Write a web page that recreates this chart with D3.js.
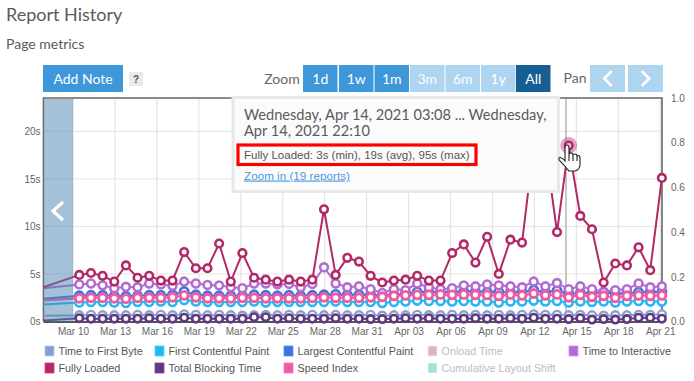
<!DOCTYPE html>
<html><head><meta charset="utf-8">
<script src="https://cdnjs.cloudflare.com/ajax/libs/d3/7.8.5/d3.min.js"></script>
<style>html,body{margin:0;padding:0;background:#fff;overflow:hidden}svg{display:block}</style>
</head><body><svg id="c" width="694" height="381"></svg>
<script>
const times = ["03-07 21:20","03-10 10:48","03-11 06:48","03-12 02:48","03-12 22:48","03-13 18:48","03-14 14:48","03-15 10:48","03-16 06:48","03-17 02:48","03-17 22:48","03-18 18:48","03-19 14:48","03-20 10:48","03-21 06:48","03-22 02:48","03-22 22:48","03-23 18:48","03-24 14:48","03-25 10:48","03-26 06:48","03-27 02:48","03-27 22:48","03-28 18:48","03-29 14:48","03-30 10:48","03-31 06:48","04-01 02:48","04-01 22:48","04-02 18:48","04-03 14:48","04-04 10:48","04-05 06:48","04-06 02:48","04-06 22:48","04-07 18:48","04-08 14:48","04-09 10:48","04-10 06:48","04-11 02:48","04-11 22:48","04-12 18:48","04-13 14:48","04-14 10:48","04-15 06:48","04-16 02:48","04-16 22:48","04-17 18:48","04-18 14:48","04-19 10:48","04-20 06:48","04-21 02:48"];
const xTicks = ["03-10","03-13","03-16","03-19","03-22","03-25","03-28","03-31","04-03","04-06","04-09","04-12","04-15","04-18","04-21"];
const yTicksLeft = [0,5,10,15,20];
const yTicksRight = [0,0.2,0.4,0.6,0.8,1];

const timeToFirstByte = [0.6,0.65,0.7,0.65,0.65,0.65,0.7,0.65,0.7,0.65,0.75,0.7,0.65,0.7,0.65,0.6,0.65,0.7,0.65,0.7,0.65,0.7,0.65,0.7,0.65,0.65,0.7,0.6,0.65,0.65,0.7,0.65,0.65,0.7,0.65,0.7,0.65,0.7,0.65,0.7,0.75,0.7,0.7,0.65,0.7,0.65,0.6,0.65,0.65,0.7,0.7,0.75];
const firstContentfulPaint = [1.8,2.0,2.05,2.05,2.0,1.95,2.05,2.05,2.1,2.05,2.25,2.1,2.05,2.05,2.05,2.05,2.1,2.0,2.05,2.05,2.05,2.05,2.05,2.1,2.05,2.05,2.05,1.95,2.05,2.1,2.2,2.15,2.15,2.1,2.15,2.1,2.1,2.0,2.1,2.1,2.2,2.1,2.15,2.0,2.1,2.05,2.1,2.0,2.1,2.15,2.1,2.1];
const largestContentfulPaint = [2.4,2.7,2.75,2.75,2.7,2.65,2.7,2.75,2.75,2.8,3.15,2.8,2.7,2.7,2.7,2.7,2.8,2.75,2.7,2.75,2.7,2.75,2.8,2.85,2.8,2.8,2.8,2.7,2.8,2.95,3.1,3.1,3.1,3.1,3.15,3.15,3.1,3.1,3.05,3.1,3.3,3.05,3.25,2.9,3.0,3.0,3.1,2.9,3.0,3.05,3.1,3.1];
const timeToInteractive = [3.5,3.9,4.0,3.8,3.5,3.65,3.6,4.0,3.9,3.75,4.2,4.0,3.85,3.8,3.6,3.5,4.0,4.0,3.9,3.95,3.6,3.95,5.7,4.0,3.6,3.7,3.4,3.0,3.4,3.3,4.0,3.6,3.4,3.5,3.8,3.7,3.9,3.8,3.7,3.6,4.2,3.7,4.05,3.4,3.7,3.4,3.1,3.3,3.4,4.0,3.6,3.7];
const fullyLoaded = [3.6,4.9,5.1,4.8,4.2,5.9,4.6,4.8,4.3,4.3,7.3,5.6,5.6,8.2,4.2,7.2,4.6,4.4,4.2,4.4,4.2,4.4,11.8,4.9,6.7,6.3,4.8,4.1,4.3,4.4,4.8,4.3,4.3,7.2,8.1,6.2,8.9,5.0,8.6,8.3,18.5,18.4,9.4,18.5,11.1,9.7,4.1,6.1,5.9,7.8,5.4,15.1];
const totalBlockingTime = [0.1,0.35,0.3,0.3,0.3,0.3,0.3,0.35,0.3,0.3,0.4,0.3,0.3,0.3,0.3,0.3,0.45,0.45,0.3,0.35,0.3,0.3,0.3,0.35,0.3,0.3,0.25,0.25,0.3,0.35,0.3,0.35,0.3,0.3,0.3,0.35,0.3,0.3,0.35,0.3,0.4,0.3,0.3,0.25,0.35,0.2,0.25,0.2,0.25,0.4,0.4,0.3];
const speedIndex = [2.2,2.45,2.5,2.5,2.45,2.4,2.5,2.5,2.5,2.55,2.75,2.55,2.45,2.45,2.45,2.5,2.5,2.45,2.45,2.45,2.45,2.5,2.55,2.5,2.5,2.5,2.55,2.6,2.7,2.75,2.8,2.8,2.85,2.8,2.85,2.8,2.8,2.7,2.85,2.75,2.95,2.75,2.85,2.55,2.8,2.6,2.7,2.5,2.7,2.75,2.7,2.75];

const seriesNames = ["Time to First Byte","First Contentful Paint","Largest Contentful Paint","Time to Interactive","Fully Loaded","Total Blocking Time","Speed Index"];
const seriesValues = [timeToFirstByte,firstContentfulPaint,largestContentfulPaint,timeToInteractive,fullyLoaded,totalBlockingTime,speedIndex];
const seriesColors = ["#8b9dc8","#29b5f0","#3d73e0","#b26cd1","#b32866","#5f3a80","#f05aa0"];
const seriesRadius = [4,4,4.2,3.9,3.8,3.7,4];
const seriesWidth = [2.4,2.6,2.6,2.6,2.6,2.6,2.9];
const legendNames = ["Time to First Byte","First Contentful Paint","Largest Contentful Paint","Onload Time","Time to Interactive","Fully Loaded","Total Blocking Time","Speed Index","Cumulative Layout Shift"];
const legendColors = ["#8b9dc8","#29b5f0","#3d73e0","#d9b4c8","#b26cd1","#b32866","#5f3a80","#f05aa0","#a8e0cd"];
const legendMuted = [false,false,false,true,false,false,false,false,true];
const zoomLabels = ["1d","1w","1m","3m","6m","1y","All"];
const zoomFill = ["#3d97d9","#3d97d9","#3d97d9","#aed5f0","#aed5f0","#aed5f0","#175e93"];

const svg = d3.select("#c");
const SANS = "'Liberation Sans',Arial,sans-serif", HEAD = "Lato,sans-serif";
const L=43.5,R=662,T=98,B=321.5;
const pt = d3.utcParse("%Y-%m-%d %H:%M"), pd = d3.utcParse("%Y-%m-%d");
const dates = times.map(t=>pt("2021-"+t));
const x = d3.scaleUtc().domain([pt("2021-03-07 21:20"),pt("2021-04-21 03:00")]).range([L,R]);
const y = d3.scaleLinear().domain([0,23.5]).range([B,T]);
const yR = d3.scaleLinear().domain([0,1]).range([B,T]);

function txt(s,xx,yy,size,fill,font,anchor,weight){
  return svg.append("text").attr("x",xx).attr("y",yy).attr("font-size",size).attr("fill",fill)
   .attr("font-family",font).attr("text-anchor",anchor||"start").attr("font-weight",weight||400).text(s);
}
txt("Report History",6,21,18,"#5a5a5a",HEAD);
txt("Page metrics",6,49,14,"#5a5a5a",HEAD);

// buttons
function btn(x0,x1,fill,label,color){
  svg.append("rect").attr("x",x0).attr("y",65).attr("width",x1-x0).attr("height",27).attr("fill",fill);
  if(label) txt(label,(x0+x1)/2,83.5,14,color||"#fff",HEAD,"middle");
}
btn(43,123,"#3d97d9","Add Note");
svg.append("rect").attr("x",129).attr("y",72).attr("width",14).attr("height",14).attr("fill","#eaeaea");
txt("?",136,83,10,"#555",SANS,"middle",700);
txt("Zoom",282,84,14,"#666",HEAD,"middle");
const zx=[303,339,374.5,410,445.5,481,516];
zoomLabels.forEach((z,i)=>btn(zx[i],zx[i]+34.5,zoomFill[i],z));
txt("Pan",575,83,14,"#666",HEAD,"middle");
btn(590,625,"#aed5f0");btn(628,663,"#aed5f0");
function chev(cx,cy,dir,h,w,sw){
  const hw=w*dir;
  svg.append("path").attr("d",`M${cx-hw/2},${cy-h} L${cx+hw/2},${cy} L${cx-hw/2},${cy+h}`)
   .attr("fill","none").attr("stroke","#fff").attr("stroke-width",sw);
}
chev(608,78.5,-1,7.5,7.5,2.6);chev(645.5,78.5,1,7.5,7.5,2.6);

// axes
const gx = svg.append("g").attr("transform",`translate(0,${B})`)
  .call(d3.axisBottom(x).tickValues(xTicks.map(d=>pd("2021-"+d))).tickFormat(d3.utcFormat("%b %d")).tickSize(0).tickPadding(6));
gx.select(".domain").remove();
gx.selectAll("text").attr("font-size",10).attr("font-family",SANS).attr("fill","#666");
const gl = svg.append("g").attr("transform",`translate(${L},0)`)
  .call(d3.axisLeft(y).tickValues(yTicksLeft).tickFormat(d=>d+"s").tickSize(0).tickPadding(3));
gl.select(".domain").remove();
gl.selectAll("text").attr("font-size",10).attr("font-family",SANS).attr("fill","#666");
const gr = svg.append("g").attr("transform",`translate(${R},0)`)
  .call(d3.axisRight(yR).tickValues(yTicksRight).tickFormat(d3.format(".1f")).tickSize(0).tickPadding(9));
gr.select(".domain").remove();
gr.selectAll("text").attr("font-size",10).attr("font-family",SANS).attr("fill","#666");

// grid
svg.append("g").selectAll("line").data(yTicksLeft.slice(1)).join("line")
 .attr("x1",L).attr("x2",R).attr("y1",d=>y(d)).attr("y2",d=>y(d)).attr("stroke","#e4e4e4").attr("stroke-width",1);
svg.append("g").selectAll("line").data(xTicks).join("line")
 .attr("x1",d=>x(pd("2021-"+d))).attr("x2",d=>x(pd("2021-"+d))).attr("y1",T).attr("y2",B).attr("stroke","#e4e4e4").attr("stroke-width",1.2);
// crosshair
svg.append("line").attr("x1",566).attr("x2",566).attr("y1",T).attr("y2",B).attr("stroke","#aaa").attr("stroke-width",1.3);

// frame
svg.append("path").attr("d",`M${L},${B} V${T} H${R} V${B}`).attr("fill","none").attr("stroke","#666").attr("stroke-width",1.6);
svg.append("line").attr("x1",L).attr("x2",R).attr("y1",B+0.5).attr("y2",B+0.5).attr("stroke","#555").attr("stroke-width",2);

// series
const line = d3.line().x((d,i)=>x(dates[i])).y(d=>y(d));
seriesValues.forEach((vals,s)=>{
  const g=svg.append("g");
  g.append("path").attr("d",line(vals)).attr("fill","none").attr("stroke",seriesColors[s]).attr("stroke-width",2);
  g.selectAll("circle").data(vals.slice(1)).join("circle")
   .attr("cx",(d,i)=>x(dates[i+1])).attr("cy",d=>y(d)).attr("r",seriesRadius[s])
   .attr("fill","#fff").attr("stroke",seriesColors[s]).attr("stroke-width",seriesWidth[s]);
});
// highlighted point
const hi=43;
svg.append("circle").attr("cx",x(dates[hi])).attr("cy",y(fullyLoaded[hi])).attr("r",8.5).attr("fill","#b32866").attr("opacity",.4);
svg.append("circle").attr("cx",x(dates[hi])).attr("cy",y(fullyLoaded[hi])).attr("r",3.6).attr("fill","#f3c4d8").attr("stroke","#b32866").attr("stroke-width",2);

// navigator band
svg.append("rect").attr("x",L+0.8).attr("y",T+1).attr("width",x(pd("2021-03-10"))-L-0.8).attr("height",B-T-1).attr("fill","#4a84b0").attr("opacity",.5);
chev(58,211,-1,9,10,3.2);

// tooltip
svg.append("rect").attr("x",233).attr("y",97.5).attr("width",325.5).attr("height",94).attr("fill","#fbfbfb").attr("stroke","#e8e8e8").attr("stroke-width",3);
txt("Wednesday, Apr 14, 2021 03:08 ... Wednesday,",244,120,14.6,"#5a5a5a",HEAD);
txt("Apr 14, 2021 22:10",244,136,14.6,"#5a5a5a",HEAD);
svg.append("rect").attr("x",238).attr("y",145).attr("width",238).attr("height",19.5).attr("fill","none").attr("stroke","#f00").attr("stroke-width",3.2);
txt("Fully Loaded: 3s (min), 19s (avg), 95s (max)",244,158.5,11.5,"#555",SANS);
txt("Zoom in (19 reports)",244,179.5,11.7,"#4a9be0",SANS).attr("text-decoration","underline");

// hand cursor
svg.append("path").attr("transform","translate(558,145)")
 .attr("d","M7,16 L7,3 Q7,0 9,0 Q11,0 11,3 L11,10 Q11,8 13,8 Q15,8 15,10.5 Q15,9 17,9 Q19,9 19,11.5 Q19.5,10.5 20.5,10.5 Q22,10.5 22,13 L22,20 Q21.5,25 17,26 L11,26 Q9,24 6,20 L1.5,15.5 Q0,13 2,12.5 Q4,12.5 7,16 Z M11,10 L11,16 M15,10.5 L15,16 M19,11.5 L19,16")
 .attr("fill","#fff").attr("stroke","#222").attr("stroke-width",1.1);

// legend
const legX=[45,155,284,428,569];
const legRows=[351,368];
legendNames.forEach((n,i)=>{
  const r=i<5?0:1, c=i<5?i:i-5;
  const lx=legX[c], ly=legRows[r];
  svg.append("rect").attr("x",lx).attr("y",ly-5).attr("width",9).attr("height",10).attr("fill",legendColors[i]).attr("stroke",d3.color(legendColors[i]).brighter(.7)).attr("stroke-width",.8);
  txt(n,lx+13.5,ly+4,10.8,legendMuted[i]?"#bcbcbc":"#555",SANS);
});
</script></body></html>
